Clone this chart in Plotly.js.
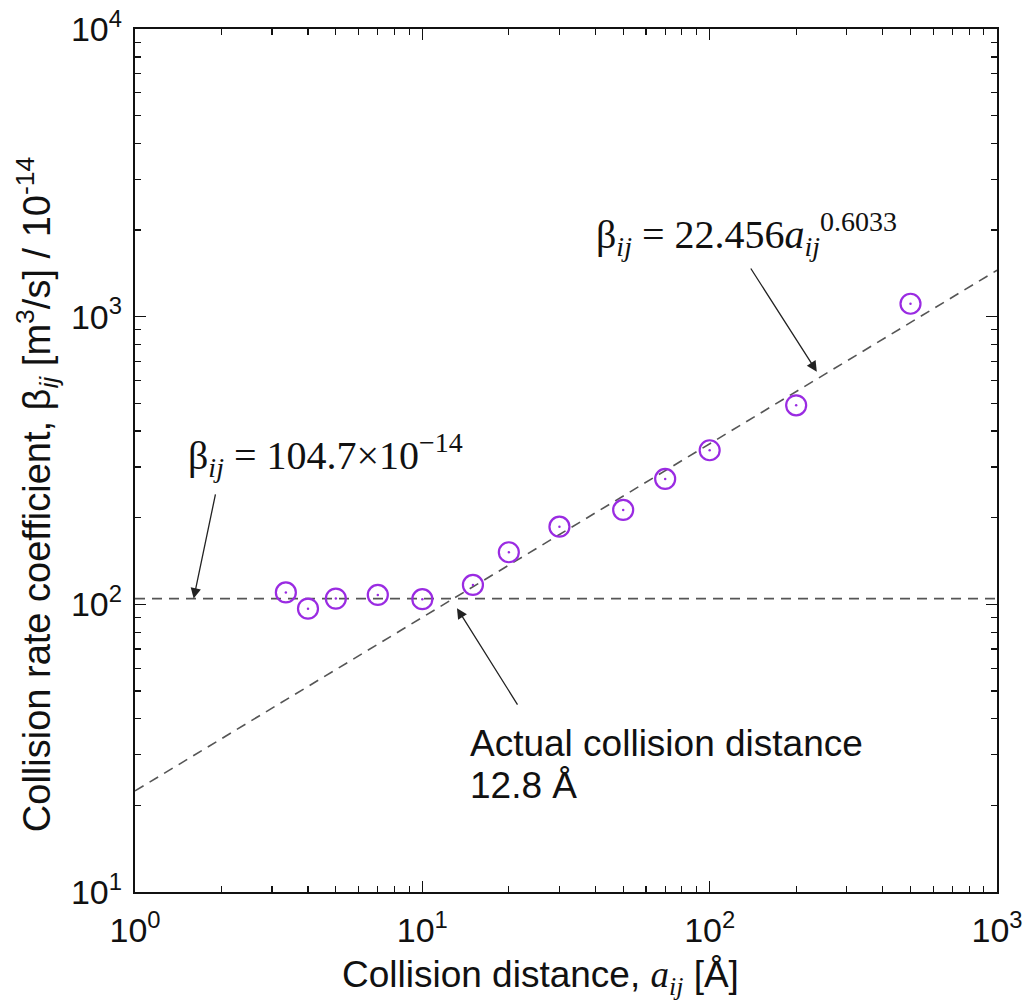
<!DOCTYPE html>
<html>
<head>
<meta charset="utf-8">
<script src="https://cdn.plot.ly/plotly-3.0.1.min.js"></script>
<style>html,body{margin:0;padding:0;background:#fff;}</style>
</head>
<body>
<div id="chart" style="width:1027px;height:1008px;"></div>
<script>
// Measured data: collision distance a_ij [Å] vs collision rate coefficient β_ij [m^3/s]/1e-14
const distance = [3.35, 4, 5, 7, 10, 15, 20, 30, 50, 70, 100, 200, 500];
const rateCoef = [110, 96.6, 104.7, 107.8, 104.2, 116.8, 151.7, 186.2, 212.9, 272.8, 343.2, 492, 1109];

// Reference lines shown in the chart
const fitX = [1, 1000];
const fitY = [22.456, 1450];          // β = 22.456 a^0.6033 at the two ends
const constX = [1, 1000];
const constY = [104.7, 104.7];        // β = 104.7e-14

const majorTicks = [1, 10, 100, 1000];
const majorTicksY = [10, 100, 1000, 10000];
const majorLabelsX = ['10<sup>0</sup>', '10<sup>1</sup>', '10<sup>2</sup>', '10<sup>3</sup>'];
const majorLabelsY = ['10<sup>1</sup>', '10<sup>2</sup>', '10<sup>3</sup>', '10<sup>4</sup>'];

const xTitle = 'Collision distance, <span style="font-family:Liberation Serif"><i>a</i><sub><i>ij</i></sub></span> [Å]';
const yTitle = 'Collision rate coefficient, β<sub><i>ij</i></sub> [m<sup>3</sup>/s] / 10<sup>-14</sup>';

function minorVals(lo, hi) {
  const v = [];
  for (let d = lo; d < hi; d *= 10) for (let k = 2; k <= 9; k++) v.push(d * k);
  return v;
}

// Arrow annotations: [tipX, tipY, tailX, tailY]
const arrows = [
  [1.6, 104.7, 1.91, 244],
  [13.2, 97, 21.6, 44.3],
  [236, 644, 138, 1488]
];

const purple = '#9a2be2';
const dashColor = '#555555';

const traces = [
  {x: constX, y: constY, mode: 'lines', line: {color: dashColor, width: 1.6, dash: '10px,7px'}, hoverinfo: 'skip', showlegend: false},
  {x: fitX, y: fitY, mode: 'lines', line: {color: dashColor, width: 1.6, dash: '10px,7px'}, hoverinfo: 'skip', showlegend: false},
  {x: distance, y: rateCoef, mode: 'markers', marker: {symbol: 'circle-open', size: 20, color: purple, line: {width: 2.2, color: purple}}, showlegend: false},
  {x: distance, y: rateCoef, mode: 'markers', marker: {symbol: 'circle', size: 2.5, color: purple}, showlegend: false, hoverinfo: 'skip'}
];

const annotations = arrows.map(a => ({
  x: Math.log10(a[0]), y: Math.log10(a[1]), xref: 'x', yref: 'y',
  ax: Math.log10(a[2]), ay: Math.log10(a[3]), axref: 'x', ayref: 'y',
  text: '', showarrow: true, arrowhead: 2, arrowsize: 1.6, arrowwidth: 1.3, arrowcolor: '#222'
}));

const serif = 'Liberation Serif, Times New Roman, serif';
const sans = 'Liberation Sans, Arial, sans-serif';

annotations.push(
  {xref: 'paper', yref: 'paper', x: 0.532, y: 0.762, xanchor: 'left', yanchor: 'middle', showarrow: false,
   text: 'β<sub><i>ij</i></sub> = 22.456<i>a</i><sub><i>ij</i></sub><sup>0.6033</sup>',
   font: {family: serif, size: 40, color: '#111'}},
  {xref: 'paper', yref: 'paper', x: 0.059, y: 0.506, xanchor: 'left', yanchor: 'middle', showarrow: false,
   text: 'β<sub><i>ij</i></sub> = 104.7×10<sup>−14</sup>',
   font: {family: serif, size: 40, color: '#111'}},
  {xref: 'paper', yref: 'paper', x: 0.388, y: 0.1715, xanchor: 'left', yanchor: 'middle', align: 'left', showarrow: false,
   borderpad: 0, text: 'Actual collision distance',
   font: {family: sans, size: 37, color: '#111'}},
  {xref: 'paper', yref: 'paper', x: 0.388, y: 0.123, xanchor: 'left', yanchor: 'middle', align: 'left', showarrow: false,
   borderpad: 0, text: '12.8 Å',
   font: {family: sans, size: 37, color: '#111'}},
  // axis titles (offset toward the origin as in the reference)
  {xref: 'paper', yref: 'paper', x: 0.47, y: -0.099, xanchor: 'center', yanchor: 'middle', showarrow: false,
   borderpad: 0, text: xTitle, font: {family: sans, size: 37, color: '#111'}},
  {xref: 'paper', yref: 'paper', x: -0.1137, y: 0.461, xanchor: 'center', yanchor: 'middle', showarrow: false,
   borderpad: 0, textangle: -90, text: yTitle, font: {family: sans, size: 38, color: '#111'}}
);

const axisCommon = {
  type: 'log', showline: true, linecolor: '#111', linewidth: 2.2, mirror: 'ticks',
  ticks: 'inside', ticklen: 11, tickwidth: 1.5, tickcolor: '#111',
  showgrid: false, zeroline: false,
  tickfont: {family: sans, size: 34, color: '#111'}
};

const layout = {
  width: 1027, height: 1008,
  margin: {l: 135, r: 30, t: 29, b: 116},
  paper_bgcolor: '#fff', plot_bgcolor: '#fff',
  xaxis: Object.assign({}, axisCommon, {
    range: [0, 3], tickmode: 'array', tickvals: majorTicks, ticktext: majorLabelsX,
    ticklabelstandoff: 7,
    minor: {tickmode: 'array', tickvals: minorVals(1, 1000), ticklen: 6, tickwidth: 1.3, tickcolor: '#111', ticks: 'inside'}
  }),
  yaxis: Object.assign({}, axisCommon, {
    range: [1, 4], tickmode: 'array', tickvals: majorTicksY, ticktext: majorLabelsY,
    ticklabelstandoff: 4,
    minor: {tickmode: 'array', tickvals: minorVals(10, 10000), ticklen: 6, tickwidth: 1.3, tickcolor: '#111', ticks: 'inside'}
  }),
  annotations: annotations
};

Plotly.newPlot('chart', traces, layout, {staticPlot: true, displayModeBar: false});
</script>
</body>
</html>
